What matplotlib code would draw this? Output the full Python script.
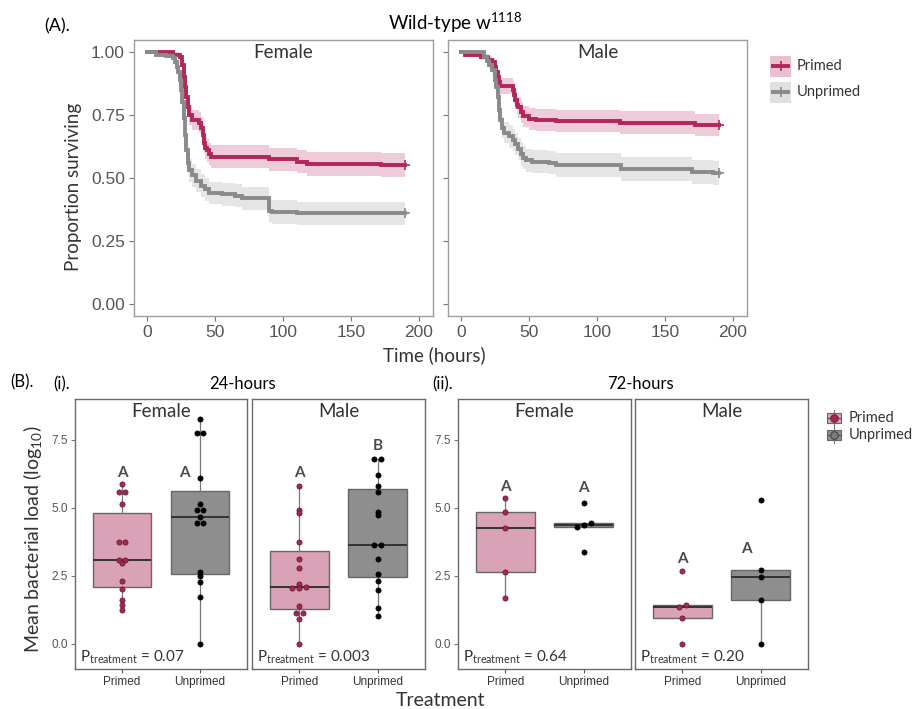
import numpy as np
import matplotlib
matplotlib.use("Agg")
import matplotlib.pyplot as plt
from matplotlib.patches import Rectangle

plt.rcParams['font.family'] = ['Lato', 'DejaVu Sans']
plt.rcParams['mathtext.fontset'] = 'custom'
plt.rcParams['mathtext.rm'] = 'Lato'
plt.rcParams['mathtext.it'] = 'Lato:italic'
plt.rcParams['mathtext.bf'] = 'Lato:bold'

# ---------------- survival data (Kaplan-Meier steps) ----------------
groups = ["Primed", "Unprimed"]

fem_primed_t = [0, 19, 24, 26, 27, 28, 29, 30, 31, 33, 38, 40, 41, 42, 43, 44, 46, 47, 90, 110, 118, 172, 190]
fem_primed_s = [1.0, 0.99, 0.98, 0.95, 0.90, 0.86, 0.82, 0.78, 0.75, 0.73, 0.72, 0.70, 0.67, 0.64, 0.62, 0.61,
                 0.595, 0.585, 0.575, 0.565, 0.555, 0.55, 0.55]
fem_primed_ci = [0.0, 0.008, 0.012, 0.02, 0.027, 0.031, 0.034, 0.037, 0.039, 0.040, 0.041, 0.042, 0.043, 0.044,
                 0.044, 0.045, 0.045, 0.045, 0.046, 0.046, 0.047, 0.048, 0.048]

fem_unprimed_t = [0, 7, 14, 19, 21, 22, 23, 24, 25, 26, 27, 28, 29, 30, 31, 33, 36, 40, 43, 46, 55, 65, 70, 90,
                  92, 110, 190]
fem_unprimed_s = [1.0, 0.99, 0.985, 0.975, 0.96, 0.94, 0.92, 0.89, 0.85, 0.80, 0.74, 0.67, 0.61, 0.56, 0.53, 0.51,
                  0.49, 0.47, 0.455, 0.44, 0.435, 0.43, 0.42, 0.37, 0.365, 0.36, 0.36]
fem_unprimed_ci = [0.0, 0.008, 0.01, 0.013, 0.017, 0.02, 0.023, 0.027, 0.031, 0.035, 0.039, 0.042, 0.044, 0.045,
                   0.045, 0.045, 0.045, 0.045, 0.045, 0.045, 0.045, 0.045, 0.045, 0.046, 0.046, 0.046, 0.046]

male_primed_t = [0, 3, 15, 20, 23, 25, 26, 27, 28, 29, 38, 39, 40, 41, 42, 44, 46, 50, 55, 70, 117, 172, 190]
male_primed_s = [1.0, 0.99, 0.98, 0.97, 0.96, 0.94, 0.92, 0.90, 0.88, 0.865, 0.85, 0.83, 0.81, 0.79, 0.78, 0.76,
                 0.745, 0.735, 0.73, 0.725, 0.72, 0.71, 0.71]
male_primed_ci = [0.0, 0.008, 0.012, 0.015, 0.018, 0.021, 0.024, 0.027, 0.03, 0.032, 0.034, 0.036, 0.038, 0.039,
                  0.04, 0.041, 0.042, 0.043, 0.043, 0.044, 0.044, 0.045, 0.045]

male_unprimed_t = [0, 17, 19, 21, 23, 25, 26, 27, 28, 29, 30, 32, 35, 38, 40, 42, 44, 46, 48, 52, 65, 70, 118,
                   170, 185, 190]
male_unprimed_s = [1.0, 0.98, 0.965, 0.95, 0.93, 0.89, 0.86, 0.82, 0.77, 0.73, 0.70, 0.68, 0.665, 0.65, 0.635,
                   0.615, 0.595, 0.58, 0.57, 0.565, 0.56, 0.552, 0.535, 0.525, 0.52, 0.52]
male_unprimed_ci = [0.0, 0.012, 0.016, 0.019, 0.022, 0.028, 0.031, 0.034, 0.038, 0.04, 0.042, 0.043, 0.044, 0.044,
                    0.045, 0.045, 0.046, 0.046, 0.046, 0.046, 0.046, 0.047, 0.047, 0.047, 0.047, 0.047]

surv_ticks_x = [0, 50, 100, 150, 200]
surv_ticks_y = [0.00, 0.25, 0.50, 0.75, 1.00]

# ---------------- bacterial load data (log10) ----------------
load_24_female_primed = [5.87, 5.60, 5.60, 5.15, 3.76, 3.76, 3.07, 3.07, 2.97, 2.33, 2.01, 1.60, 1.42, 1.25]
load_24_female_unprimed = [8.27, 7.75, 7.75, 6.11, 5.14, 4.93, 4.93, 4.68, 4.44, 4.44, 2.66, 2.50, 2.26, 1.74, 0.0]
load_24_male_primed = [5.81, 4.93, 4.80, 3.74, 3.11, 2.78, 2.21, 2.11, 2.06, 2.06, 1.39, 1.15, 1.15, 0.93, 0.0]
load_24_male_unprimed = [6.80, 6.80, 6.20, 5.79, 5.58, 4.85, 4.73, 3.62, 3.62, 3.11, 2.57, 2.32, 2.00, 1.31, 1.01]
load_72_female_primed = [5.36, 4.86, 4.25, 2.65, 1.69]
load_72_female_unprimed = [5.19, 4.43, 4.36, 4.30, 3.39]
load_72_male_primed = [2.69, 1.44, 1.37, 0.95, 0.0]
load_72_male_unprimed = [5.30, 2.70, 2.45, 1.60, 0.0]

p_values = ["0.07", "0.003", "0.64", "0.20"]
letters = [["A", "A"], ["A", "B"], ["A", "A"], ["A", "A"]]
letter_x = [[1.0, 1.8], [1.0, 2.0], [1.0, 2.0], [1.0, 1.82]]
letter_y = [[6.29, 6.29], [6.29, 7.28], [5.77, 5.74], [3.12, 3.49]]
load_ticks = [0.0, 2.5, 5.0, 7.5]

# ---------------- colours ----------------
RED = "#B3265A"
RED_FILL = "#E7BACB"
GREY = "#8A8A8A"
GREY_FILL = "#DDDDDD"
BOX_RED = "#D9A2B6"
BOX_GREY = "#8E8E8E"
DOT_RED = "#A4284F"
TXT = "#333333"
TICK_TXT = "#555555"

W, H = 915, 709
fig = plt.figure(figsize=(W / 100, H / 100), dpi=100)


def rect(l, r, t, b):
    return [l / W, 1 - b / H, (r - l) / W, (b - t) / H]


def fig_text(x, y, s, **kw):
    fig.text(x / W, 1 - y / H, s, **kw)


# ---------------- (A) survival curves ----------------
surv_panels = [
    ("Female", rect(134, 433, 40, 316),
     [(fem_primed_t, fem_primed_s, fem_primed_ci), (fem_unprimed_t, fem_unprimed_s, fem_unprimed_ci)]),
    ("Male", rect(448, 747, 40, 316),
     [(male_primed_t, male_primed_s, male_primed_ci), (male_unprimed_t, male_unprimed_s, male_unprimed_ci)]),
]
line_cols = [RED, GREY]
fill_cols = [RED_FILL, GREY_FILL]

for i, (sex, pos, curves) in enumerate(surv_panels):
    ax = fig.add_axes(pos)
    for (t, s, ci), lc, fc in zip(curves, line_cols, fill_cols):
        t = np.asarray(t, float)
        s = np.asarray(s, float)
        ci = np.asarray(ci, float)
        ax.fill_between(t, np.clip(s - ci, 0, 1), np.clip(s + ci, 0, 1), step="post",
                        color=fc, alpha=0.75, lw=0)
        ax.plot(t, s, drawstyle="steps-post", color=lc, lw=2.8, solid_joinstyle="miter")
        ax.plot([t[-1]], [s[-1]], marker="+", color=lc, ms=7, mew=1.2)
    ax.set_xlim(-9.5, 210.3)
    ax.set_ylim(-0.0476, 1.0476)
    ax.set_xticks(surv_ticks_x)
    ax.set_yticks(surv_ticks_y)
    ax.set_xticklabels([str(v) for v in surv_ticks_x], family="Liberation Sans", fontsize=12.5, color=TICK_TXT)
    if i == 0:
        ax.set_yticklabels([f"{v:.2f}" for v in surv_ticks_y], family="Liberation Sans", fontsize=12.5,
                           color=TICK_TXT)
    else:
        ax.set_yticklabels([])
    ax.tick_params(length=3.5, width=0.8, color="#777777", pad=3)
    for sp in ax.spines.values():
        sp.set_color("#9E9E9E")
        sp.set_linewidth(1.0)
    ax.text(0.5, 0.955, sex, transform=ax.transAxes, ha="center", va="center", fontsize=13.5, color=TXT)

fig_text(44, 26, "(A).", fontsize=13, color="black", va="center", ha="left")
fig_text(455, 23, r"Wild-type w$^{\mathregular{1118}}$", fontsize=13.5, color="black", va="center", ha="center")
fig_text(73, 187, "Proportion surviving", fontsize=13.5, color=TXT, rotation=90, va="center", ha="center")
fig_text(434, 355, "Time (hours)", fontsize=13.5, color=TXT, va="center", ha="center")


# ---------------- (B) bacterial load boxplots ----------------
def dodge(values, tol=0.08, step=0.085):
    vals = np.asarray(values, float)
    order = np.argsort(vals)
    offs = np.zeros(len(vals))
    groups_idx = [[order[0]]]
    for a, b in zip(order[:-1], order[1:]):
        if vals[b] - vals[a] <= tol:
            groups_idx[-1].append(b)
        else:
            groups_idx.append([b])
    for g in groups_idx:
        k = len(g)
        for j, idx in enumerate(g):
            offs[idx] = (j - (k - 1) / 2) * step
    return offs


box_panels = [
    ("Female", rect(75, 247, 399, 669), load_24_female_primed, load_24_female_unprimed, True),
    ("Male", rect(252, 425, 399, 669), load_24_male_primed, load_24_male_unprimed, False),
    ("Female", rect(458, 631, 399, 669), load_72_female_primed, load_72_female_unprimed, True),
    ("Male", rect(635, 808, 399, 669), load_72_male_primed, load_72_male_unprimed, False),
]

for k, (sex, pos, prim, unprim, show_y) in enumerate(box_panels):
    ax = fig.add_axes(pos)
    bp = ax.boxplot([prim, unprim], positions=[1, 2], widths=0.75, whis=1.5, showfliers=False,
                    showcaps=False, patch_artist=True,
                    medianprops=dict(color="#333333", lw=1.4),
                    whiskerprops=dict(color="#777777", lw=0.9),
                    boxprops=dict(edgecolor="#666666", lw=1.0))
    bp["boxes"][0].set_facecolor(BOX_RED)
    bp["boxes"][1].set_facecolor(BOX_GREY)
    for xpos, vals, fc, ec in [(1, prim, DOT_RED, "#5E1530"), (2, unprim, "black", "black")]:
        xs = xpos + dodge(vals)
        ax.scatter(xs, vals, s=14, facecolor=fc, edgecolor=ec, linewidth=0.5, zorder=5)
    for lx, ly, lt in zip(letter_x[k], letter_y[k], letters[k]):
        ax.text(lx, ly, lt, ha="center", va="center", fontsize=11, fontweight="bold", color="#4A4A4A")
    ax.text(0.03, 0.045, r"P$_{\mathregular{treatment}}$ = " + p_values[k], transform=ax.transAxes,
            ha="left", va="center", fontsize=11, color=TXT)
    ax.text(0.5, 0.955, sex, transform=ax.transAxes, ha="center", va="center", fontsize=13.5, color=TXT)
    ax.set_xlim(0.4, 2.6)
    ax.set_ylim(-0.92, 9.0)
    ax.set_xticks([1, 2])
    ax.set_xticklabels(groups, family="Liberation Sans", fontsize=8.5, color=TXT)
    ax.set_yticks(load_ticks)
    if show_y:
        ax.set_yticklabels([f"{v:.1f}" for v in load_ticks], family="Liberation Sans", fontsize=8.5,
                           color=TICK_TXT)
        ax.tick_params(axis="y", length=3, width=0.8, color="#777777", pad=2)
    else:
        ax.tick_params(axis="y", left=False, labelleft=False)
    ax.tick_params(axis="x", length=3, width=0.8, color="#555555", pad=2)
    for sp in ax.spines.values():
        sp.set_color("#6A6A6A")
        sp.set_linewidth(1.0)

fig_text(10, 382, "(B).", fontsize=12, color="black", va="center", ha="left")
fig_text(53, 384, "(i).", fontsize=12, color="black", va="center", ha="left")
fig_text(242, 384, "24-hours", fontsize=12, color="black", va="center", ha="center")
fig_text(432, 384, "(ii).", fontsize=12, color="black", va="center", ha="left")
fig_text(640, 384, "72-hours", fontsize=12, color="black", va="center", ha="center")
fig_text(33, 539, r"Mean bacterial load (log$_{\mathregular{10}}$)", fontsize=14, color=TXT, rotation=90,
         va="center", ha="center")
fig_text(441, 700, "Treatment", fontsize=14, color=TXT, va="center", ha="center")

# ---------------- legends, drawn as keys in pixel space ----------------
key_ax = fig.add_axes([0, 0, 1, 1], facecolor="none")
key_ax.set_xlim(0, W)
key_ax.set_ylim(H, 0)
key_ax.axis("off")

# survival legend: ribbon square with line and censor tick
for j, (label, lc, fc) in enumerate(zip(groups, line_cols, fill_cols)):
    yc = 66 + j * 26
    key_ax.add_patch(Rectangle((770, yc - 10.5), 21, 21, facecolor=fc, edgecolor="none", alpha=0.9))
    key_ax.plot([771, 790], [yc, yc], color=lc, lw=2.8, solid_capstyle="butt")
    key_ax.plot([780.5], [yc], marker="|", ms=7, mew=1.2, color=lc)
    key_ax.text(797, yc, label, ha="left", va="center", fontsize=10.5, color=TXT)

# boxplot legend: box with whisker, median and point
key_styles = [(BOX_RED, DOT_RED, "#5E1530"), (BOX_GREY, "#7A7A7A", "#333333")]
for j, (label, (fc, dc, ec)) in enumerate(zip(groups, key_styles)):
    yc = 418 + j * 17
    xc = 834
    key_ax.plot([xc, xc], [yc - 8, yc + 8], color="#777777", lw=0.8)
    key_ax.add_patch(Rectangle((xc - 7, yc - 5), 14, 10, facecolor=fc, edgecolor="#666666", lw=0.8))
    key_ax.plot([xc - 7, xc + 7], [yc, yc], color="#555555", lw=0.8)
    key_ax.plot([xc], [yc], marker="o", ms=5.5, mfc=dc, mec=ec, mew=0.6)
    key_ax.text(849, yc, label, ha="left", va="center", fontsize=10.5, color=TXT)

fig.savefig("out.png", dpi=100)
